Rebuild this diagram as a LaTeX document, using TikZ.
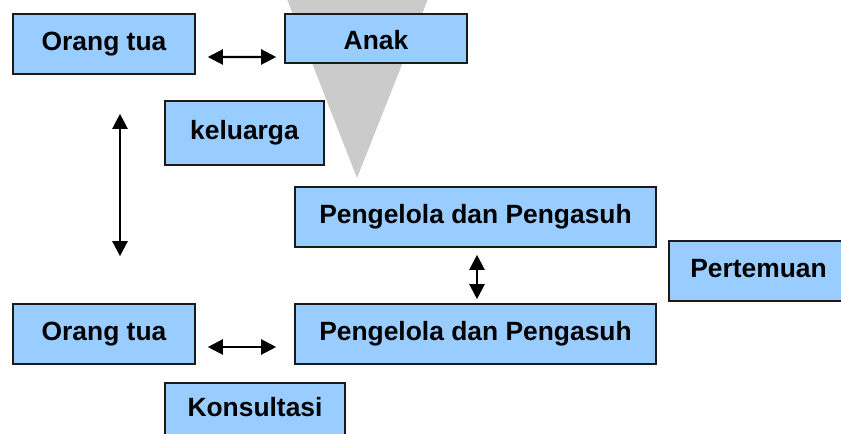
\documentclass[tikz,border=0pt]{standalone}
\usepackage{fontspec}
\setmainfont{Liberation Sans}
\usetikzlibrary{arrows.meta}

\definecolor{boxblue}{HTML}{99CCFF}
\definecolor{boxline}{HTML}{1A1A1A}
\definecolor{wedge}{HTML}{CBCBCB}

\tikzset{
  box/.style={draw=boxline, fill=boxblue, line width=1.6bp, inner sep=0pt,
    font=\bfseries\fontsize{26.5}{30}\selectfont,
    text height=19bp, text depth=6bp, minimum height=60bp},
  dbl/.style={line width=2.2bp, {Triangle[length=15bp,width=15bp]}-{Triangle[length=15bp,width=15bp]}}
}

\begin{document}
\begin{tikzpicture}[x=1bp, y=-1bp]
  \useasboundingbox (0,0) rectangle (841,434);
  \clip (0,0) rectangle (841,434);

  % grey wedge behind the upper boxes
  \fill[wedge] (285,-6) -- (430,-6) -- (357,178) -- cycle;

  % boxes
  \node[box, minimum width=182bp] (ot1) at (104,44) {Orang tua};
  \node[box, minimum width=182bp, minimum height=49bp, text height=25bp, text depth=3bp] (anak) at (376,38.5) {Anak};
  \node[box, minimum width=159bp, minimum height=64bp] (kel) at (244.5,133) {keluarga};
  \node[box, minimum width=361bp] (pp1) at (475.5,217) {Pengelola dan Pengasuh};
  \node[box, minimum width=361bp] (pp2) at (475.5,334) {Pengelola dan Pengasuh};
  \node[box, minimum width=179bp] (pert) at (758.5,271) {Pertemuan};
  \node[box, minimum width=182bp] (ot2) at (104,334) {Orang tua};
  \node[box, minimum width=180bp, minimum height=54bp] (kons) at (255,410) {Konsultasi};

  % two-way connectors
  \draw[dbl] ([shift={(12,13)}]ot1.east) -- ([shift={(-8,18.5)}]anak.west);
  \draw[dbl] ([shift={(16,39)}]ot1.south) -- ([shift={(16,-47)}]ot2.north);
  \draw[dbl] ([shift={(1.5,7)}]pp1.south) -- ([shift={(1.5,-4)}]pp2.north);
  \draw[dbl] ([shift={(12,13)}]ot2.east) -- ([shift={(-18,13)}]pp2.west);
\end{tikzpicture}
\end{document}
